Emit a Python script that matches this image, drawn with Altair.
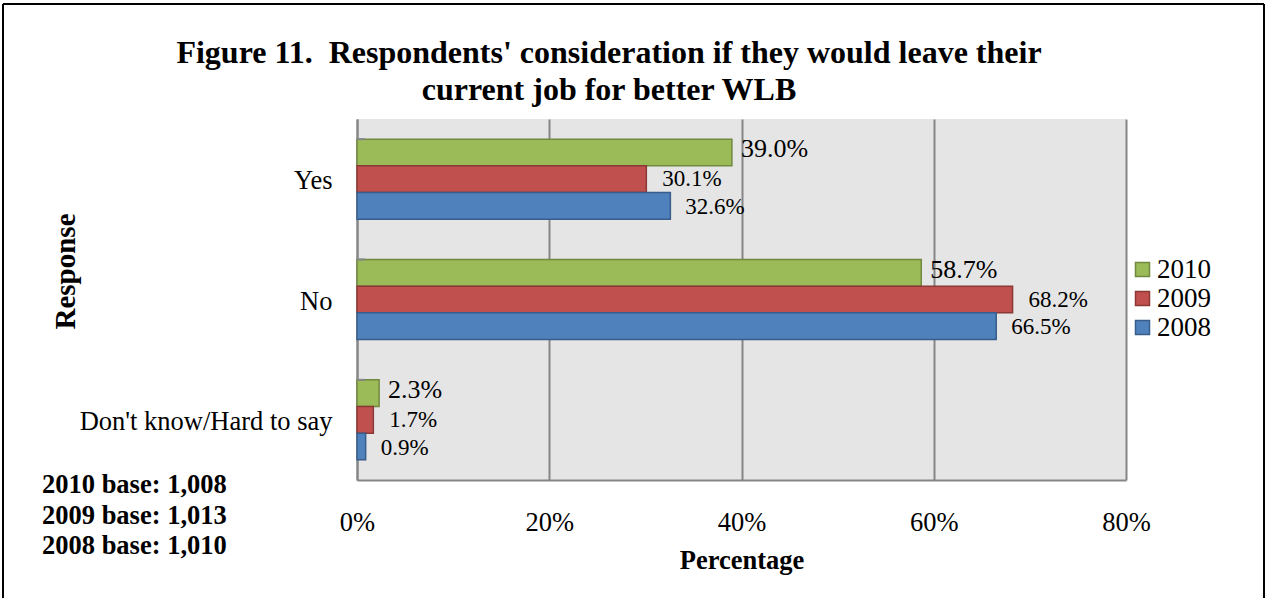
import altair as alt
import pandas as pd

categories = ["Yes", "No", "Don't know/Hard to say"]
years = ["2010", "2009", "2008"]
pct_2010 = [39.0, 58.7, 2.3]
pct_2009 = [30.1, 68.2, 1.7]
pct_2008 = [32.6, 66.5, 0.9]
x_ticks = [0, 0.2, 0.4, 0.6, 0.8]
title_lines = ["Figure 11.\u00a0 Respondents' consideration if they would leave their",
               "current job for better WLB"]
base_notes = ["2010 base: 1,008", "2009 base: 1,013", "2008 base: 1,010"]
fill_colors = ["#9BBB59", "#C0504D", "#4F81BD"]
edge_colors = ["#71893F", "#8C3836", "#385D8A"]

rows = []
for yr, vals in zip(years, [pct_2010, pct_2009, pct_2008]):
    for c, v in zip(categories, vals):
        rows.append({"Response": c, "Year": yr, "Value": v / 100})
df = pd.DataFrame(rows)
cat_df = pd.DataFrame({"Response": categories})
one = pd.DataFrame({"k": [0]})

FONT = "Liberation Serif"
GRID = "#868686"

y_scale = alt.Scale(domain=categories, paddingInner=0.335, paddingOuter=0.1675)
yoff = alt.YOffset("Year:N", scale=alt.Scale(domain=years, paddingInner=0, paddingOuter=0))
x_enc = alt.X("Value:Q", scale=alt.Scale(domain=[0, 0.8]),
              axis=alt.Axis(values=x_ticks, format=".0%", title="Percentage",
                            grid=True, gridColor=GRID, gridWidth=2, gridOpacity=1,
                            domainColor=GRID, domainWidth=2, ticks=False, labelFlush=False,
                            labelFont=FONT, labelFontSize=26.5, labelColor="black",
                            labelBaseline="alphabetic", labelPadding=50,
                            titleFont=FONT, titleFontSize=26.5, titleFontWeight="bold",
                            titleColor="black", titleBaseline="alphabetic", titleY=88))
y_enc = alt.Y("Response:N", scale=y_scale,
              axis=alt.Axis(title="Response", ticks=False, grid=False,
                            domainColor=GRID, domainWidth=2, labelLimit=500,
                            labelFont=FONT, labelFontSize=26.5, labelColor="black",
                            labelPadding=25, labelOffset=2,
                            titleFont=FONT, titleFontSize=29, titleFontWeight="bold",
                            titleColor="black", titleX=-277, titleY=152))

legend = alt.Legend(title=None, orient="none", legendX=772, legendY=137, padding=0,
                    symbolType="square", symbolSize=196, symbolStrokeWidth=1.5,
                    labelFont=FONT, labelFontSize=27, labelColor="black",
                    labelOffset=1, rowPadding=1)

bars = alt.Chart(df).mark_bar(strokeWidth=1.5).encode(
    y=y_enc, yOffset=yoff, x=x_enc,
    color=alt.Color("Year:N", scale=alt.Scale(domain=years, range=fill_colors), legend=legend),
    stroke=alt.Stroke("Year:N", scale=alt.Scale(domain=years, range=edge_colors), legend=legend),
)

label_style = {"2010": (9, -3, 26), "2009": (16, 0, 23), "2008": (15, 1, 23)}
texts = []
for yr in years:
    dx, dy, fs = label_style[yr]
    texts.append(
        alt.Chart(df).transform_filter(alt.datum.Year == yr)
        .mark_text(font=FONT, fontSize=fs, align="left", baseline="middle",
                   dx=dx, dy=dy, color="black")
        .encode(y=alt.Y("Response:N", scale=y_scale), yOffset=yoff,
                x=alt.X("Value:Q"), text=alt.Text("Value:Q", format=".1%"))
    )

ticks = alt.Chart(cat_df).mark_rule(color=GRID, strokeWidth=2).encode(
    y=alt.Y("Response:N", scale=y_scale, bandPosition=0),
    x=alt.value(0), x2=alt.value(8))

frame_top = alt.Chart(one).mark_rule(color="black", strokeWidth=2).encode(
    x=alt.value(-354), x2=alt.value(907), y=alt.value(-115))
frame_left = alt.Chart(one).mark_rule(color="black", strokeWidth=2).encode(
    x=alt.value(-354), y=alt.value(-115), y2=alt.value(479))
frame_right = alt.Chart(one).mark_rule(color="black", strokeWidth=2).encode(
    x=alt.value(907), y=alt.value(-115), y2=alt.value(479))

titles = []
for i, line in enumerate(title_lines):
    titles.append(alt.Chart(one).mark_text(
        font=FONT, fontSize=32, fontWeight="bold", align="center",
        baseline="alphabetic", color="black").encode(
        x=alt.value(252), y=alt.value(-56 + 37 * i), text=alt.value(line)))

notes = []
for i, line in enumerate(base_notes):
    notes.append(alt.Chart(one).mark_text(
        font=FONT, fontSize=26.5, fontWeight="bold", align="left",
        baseline="alphabetic", color="black").encode(
        x=alt.value(-315), y=alt.value(374 + 30.5 * i), text=alt.value(line)))

chart = alt.layer(frame_top, frame_left, frame_right, bars, *texts, ticks, *titles, *notes).properties(
    width=769, height=361, background="white",
    padding={"left": 2, "top": 3, "right": 0, "bottom": 0},
).configure_view(fill="#E5E5E5", strokeWidth=0)

chart.save("out.html", embed_options={"renderer": "svg", "actions": False})
